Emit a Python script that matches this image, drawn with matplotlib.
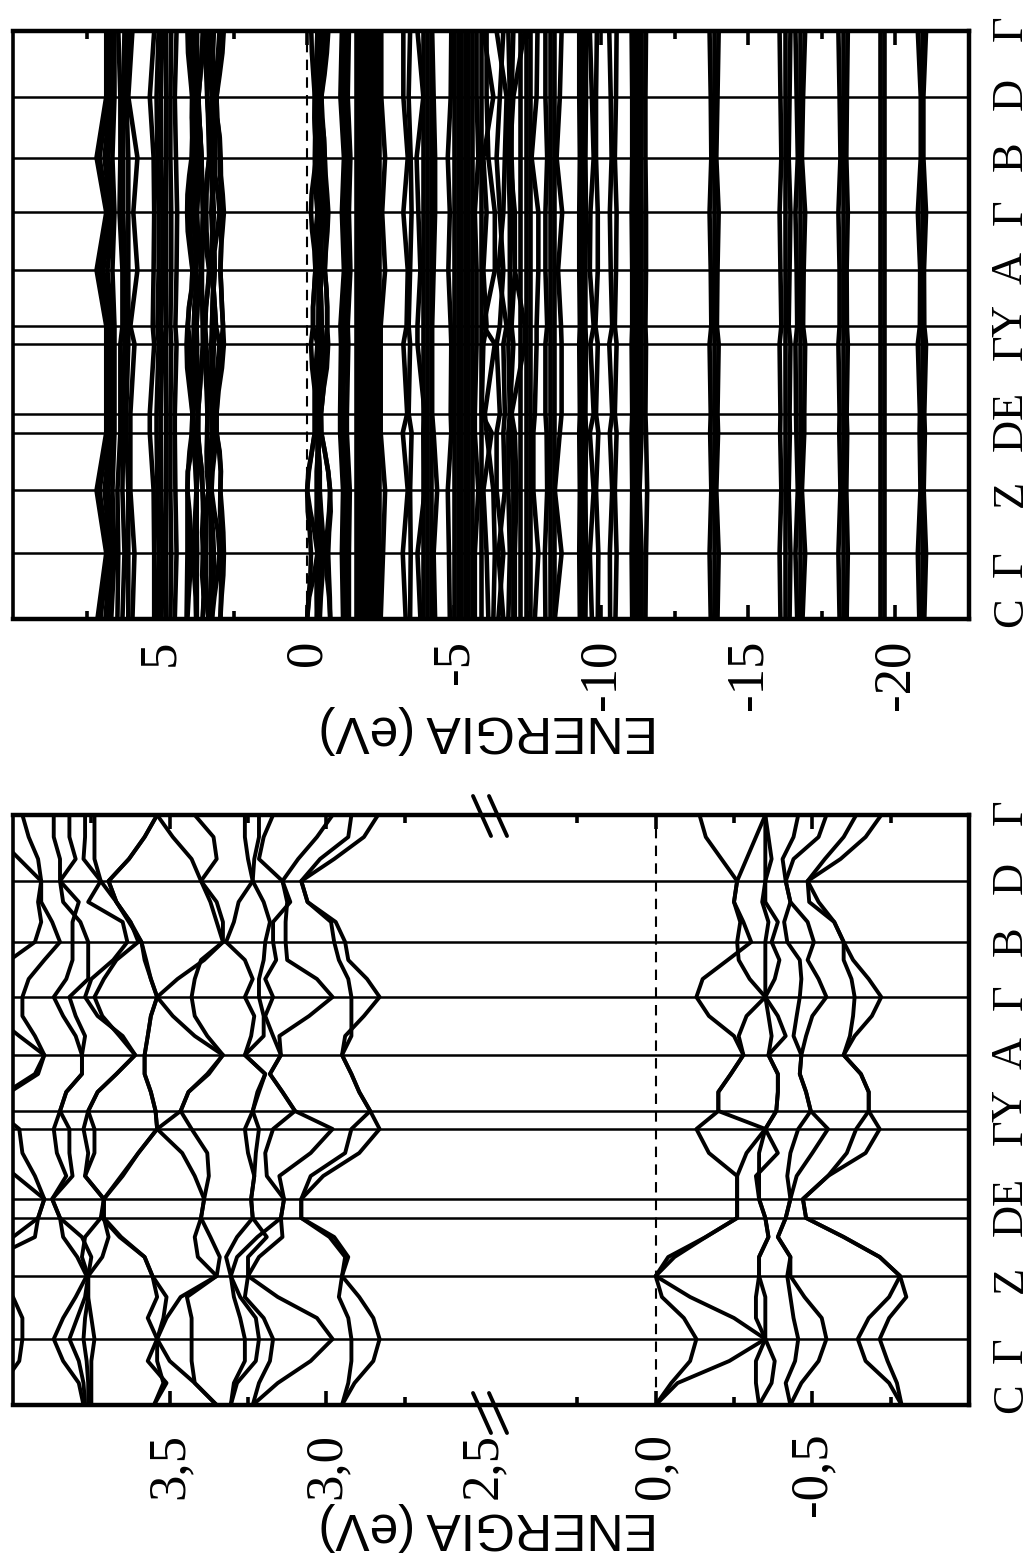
import matplotlib
matplotlib.use("Agg")
import matplotlib.pyplot as plt
from matplotlib.lines import Line2D
import numpy as np

W, H = 1031, 1553
plt.rcParams['axes.unicode_minus'] = False

# k-path: symmetry points and labels
k_sym = [0, 66, 129, 187, 206, 276, 294, 350, 408, 463, 524, 590]
k_labels = ['C', 'Γ', 'Z', 'D', 'E', 'Γ', 'Y', 'A', 'Γ', 'B', 'D', 'Γ']
k_label_at = [7, 55, 126, 185, 214, 273, 299, 352, 408, 464, 527, 593]
k_fine = [0, 22, 44, 66, 87, 108, 129, 148, 168, 187, 206, 229, 252, 276, 294, 313, 331, 350,
          369, 389, 408, 426, 445, 463, 483, 503, 524, 546, 568, 590]

# valence bands near the gap (eV)
v1 = [0,-.05,-.11,-.13,-.09,-.02,0,-.04,-.16,-.26,-.26,-.26,-.17,-.13,-.20,-.20,-.24,-.28,-.25,-.17,-.13,-.15,-.23,-.305,-.28,-.25,-.26,-.21,-.16,-.14]
v2 = [0,-.07,-.235,-.35,-.25,-.11,0,-.06,-.16,-.26,-.26,-.26,-.29,-.35,-.20,-.20,-.24,-.28,-.265,-.29,-.35,-.30,-.265,-.26,-.27,-.25,-.26,-.29,-.32,-.35]
v3 = [-.33,-.37,-.38,-.35,-.35,-.35,-.33,-.33,-.36,-.35,-.33,-.33,-.33,-.35,-.385,-.39,-.39,-.36,-.37,-.36,-.35,-.35,-.35,-.35,-.36,-.34,-.35,-.35,-.35,-.35]
v4 = [-.33,-.32,-.32,-.35,-.32,-.32,-.33,-.33,-.36,-.35,-.33,-.32,-.39,-.35,-.385,-.39,-.39,-.36,-.415,-.39,-.35,-.38,-.395,-.37,-.39,-.35,-.35,-.37,-.36,-.35]
v5 = [-.43,-.415,-.445,-.455,-.44,-.43,-.42,-.43,-.39,-.415,-.43,-.42,-.43,-.455,-.495,-.48,-.46,-.465,-.44,-.45,-.46,-.465,-.46,-.42,-.41,-.43,-.415,-.405,-.44,-.455]
v6 = [-.43,-.465,-.52,-.545,-.53,-.475,-.43,-.43,-.39,-.415,-.43,-.45,-.50,-.55,-.495,-.48,-.46,-.465,-.48,-.50,-.545,-.52,-.485,-.505,-.485,-.43,-.415,-.44,-.52,-.545]
v7 = [-.785,-.745,-.67,-.645,-.68,-.745,-.78,-.715,-.60,-.48,-.47,-.55,-.61,-.64,-.68,-.68,-.655,-.60,-.62,-.63,-.635,-.625,-.60,-.60,-.57,-.49,-.485,-.54,-.60,-.64]
v8 = [-.785,-.77,-.74,-.715,-.745,-.80,-.78,-.715,-.60,-.48,-.47,-.55,-.67,-.715,-.68,-.68,-.655,-.60,-.635,-.69,-.72,-.68,-.63,-.60,-.57,-.52,-.485,-.59,-.67,-.72]
valence = [v1, v2, v3, v4, v5, v6, v7, v8]

# conduction bands near the gap (eV)
c1 = [2.95,2.91,2.85,2.83,2.85,2.895,2.95,2.94,2.99,3.08,3.08,3.01,2.895,2.83,2.86,2.895,2.92,2.95,2.94,2.88,2.83,2.87,2.93,2.94,2.97,3.06,3.08,2.975,2.88,2.835]
c2 = [2.95,2.93,2.92,2.92,2.93,2.96,2.95,2.93,2.975,3.08,3.08,3.05,2.94,2.92,2.86,2.895,2.92,2.95,2.92,2.92,2.92,2.93,2.96,2.975,2.985,3.06,3.08,3.02,2.93,2.92]
c3 = [3.235,3.155,3.05,2.98,3.03,3.155,3.25,3.215,3.14,3.145,3.135,3.15,3.05,2.98,3.10,3.14,3.18,3.145,3.15,3.055,2.98,3.03,3.125,3.13,3.13,3.125,3.14,3.09,3.03,2.98]
c4 = [3.235,3.215,3.18,3.17,3.20,3.26,3.25,3.25,3.19,3.235,3.24,3.23,3.225,3.215,3.235,3.215,3.195,3.26,3.20,3.20,3.215,3.215,3.20,3.195,3.18,3.20,3.235,3.23,3.215,3.215]
c5 = [3.305,3.285,3.225,3.215,3.225,3.275,3.305,3.285,3.22,3.145,3.135,3.19,3.195,3.17,3.10,3.14,3.18,3.145,3.17,3.195,3.17,3.195,3.16,3.17,3.17,3.115,3.14,3.215,3.20,3.17]
c6 = [3.305,3.295,3.26,3.26,3.275,3.295,3.305,3.32,3.285,3.235,3.24,3.23,3.25,3.26,3.235,3.22,3.195,3.26,3.24,3.23,3.26,3.235,3.26,3.32,3.295,3.28,3.235,3.25,3.26,3.26]
c7 = [3.55,3.51,3.57,3.54,3.57,3.54,3.555,3.58,3.655,3.71,3.71,3.65,3.60,3.54,3.545,3.56,3.58,3.58,3.57,3.56,3.54,3.56,3.58,3.59,3.63,3.67,3.695,3.63,3.58,3.54]
c8 = [3.55,3.52,3.54,3.54,3.52,3.51,3.555,3.58,3.66,3.715,3.71,3.655,3.60,3.54,3.545,3.56,3.58,3.58,3.57,3.56,3.54,3.475,3.39,3.33,3.33,3.35,3.40,3.43,3.49,3.54]
c9 = [3.35,3.42,3.50,3.54,3.51,3.465,3.35,3.41,3.42,3.40,3.39,3.375,3.38,3.43,3.465,3.44,3.38,3.33,3.38,3.42,3.43,3.42,3.40,3.33,3.35,3.37,3.40,3.35,3.36,3.42]
c10 = [3.35,3.42,3.43,3.43,3.43,3.445,3.35,3.34,3.37,3.40,3.39,3.42,3.46,3.54,3.465,3.44,3.375,3.33,3.42,3.49,3.54,3.56,3.575,3.59,3.625,3.67,3.695,3.63,3.58,3.54]
c11 = [3.775,3.79,3.84,3.87,3.84,3.80,3.765,3.795,3.84,3.85,3.875,3.83,3.86,3.87,3.85,3.83,3.78,3.78,3.80,3.84,3.87,3.83,3.81,3.81,3.81,3.79,3.85,3.85,3.87,3.87]
c12 = [3.77,3.775,3.79,3.82,3.795,3.77,3.76,3.75,3.78,3.85,3.875,3.81,3.82,3.82,3.85,3.83,3.78,3.78,3.77,3.80,3.82,3.76,3.76,3.76,3.785,3.84,3.85,3.80,3.82,3.82]
c13 = [3.76,3.76,3.765,3.775,3.77,3.76,3.76,3.78,3.77,3.72,3.71,3.77,3.76,3.775,3.76,3.73,3.67,3.61,3.65,3.73,3.77,3.75,3.68,3.635,3.65,3.76,3.72,3.775,3.77,3.77]
c14 = [3.75,3.75,3.75,3.74,3.75,3.76,3.76,3.715,3.695,3.71,3.71,3.77,3.74,3.74,3.76,3.73,3.67,3.61,3.66,3.715,3.74,3.71,3.67,3.60,3.625,3.67,3.72,3.74,3.74,3.74]
c15 = [4.07,4.03,3.98,3.97,3.97,4.00,4.07,4.05,4.00,3.92,3.90,3.99,4.08,4.10,4.07,4.01,3.92,3.90,3.93,3.97,3.97,3.95,3.90,3.85,3.875,3.91,3.91,3.92,3.95,3.97]
c16 = [4.10,4.09,4.08,4.07,4.07,4.07,4.07,4.06,3.93,3.92,3.90,3.93,3.97,3.98,4.05,4.02,3.93,3.90,3.98,4.06,4.08,4.07,4.01,3.93,3.91,3.92,3.91,3.98,4.05,4.07]
conduction = [c1, c2, c3, c4, c5, c6, c7, c8, c9, c10, c11, c12, c13, c14, c15, c16]

# upper conduction bands, read at the symmetry points (eV)
hi_a1 = [7.13,6.83,7.16,6.83,6.83,6.83,6.83,7.16,6.83,7.16,6.83,6.83]
hi_a2 = [7.03,6.76,7.06,6.76,6.76,6.76,6.76,7.06,6.76,7.06,6.76,6.76]
hi_a3 = [6.86,6.69,6.89,6.69,6.69,6.69,6.69,6.93,6.69,6.89,6.69,6.69]
hi_a4 = [6.79,6.59,6.76,6.62,6.62,6.59,6.62,6.79,6.59,6.76,6.62,6.59]
hi_a5 = [6.66,6.55,6.62,6.55,6.55,6.55,6.55,6.62,6.55,6.62,6.55,6.55]
hi_b1 = [6.45,6.42,6.45,6.35,6.35,6.35,6.28,6.28,6.38,6.35,6.35,6.42]
hi_b2 = [6.28,6.21,6.28,6.25,6.25,6.21,6.21,6.21,6.25,6.25,6.25,6.21]
hi_b3 = [6.08,6.08,6.08,6.15,6.15,6.08,6.08,6.08,6.08,6.08,6.15,6.08]
hi_b4 = [5.94,5.87,6.01,6.01,6.01,5.87,6.01,5.77,5.91,5.77,6.08,5.94]
hi_c1 = [5.20,5.20,5.22,5.35,5.35,5.20,5.25,5.22,5.20,5.22,5.35,5.20]
hi_c2 = [5.09,5.05,5.09,5.12,5.12,5.05,5.09,5.05,5.05,5.09,5.12,5.05]
hi_c3 = [4.95,4.92,4.96,4.98,4.98,4.92,4.96,4.92,4.92,4.96,4.98,4.92]
hi_c4 = [4.80,4.79,4.80,4.80,4.80,4.79,4.80,4.79,4.79,4.80,4.80,4.79]
hi_c5 = [4.65,4.62,4.65,4.65,4.65,4.62,4.65,4.62,4.62,4.65,4.65,4.62]
hi_c6 = [4.50,4.44,4.48,4.50,4.50,4.44,4.48,4.44,4.42,4.46,4.50,4.44]
upper = [hi_a1, hi_a2, hi_a3, hi_a4, hi_a5, hi_b1, hi_b2, hi_b3, hi_b4, hi_c1, hi_c2, hi_c3, hi_c4, hi_c5, hi_c6]

# lower valence bands, read at the symmetry points (eV)
g1a = [-1.22,-1.18,-1.22,-1.12,-1.12,-1.15,-1.13,-1.25,-1.18,-1.25,-1.13,-1.18]
g1b = [-1.32,-1.30,-1.35,-1.22,-1.22,-1.27,-1.25,-1.35,-1.30,-1.35,-1.25,-1.30]
g1c = [-1.42,-1.42,-1.45,-1.35,-1.35,-1.40,-1.38,-1.47,-1.42,-1.47,-1.38,-1.42]
g2a = [-2.50,-2.58,-2.65,-2.50,-2.50,-2.50,-2.50,-2.65,-2.55,-2.65,-2.52,-2.52]
g3a = [-3.35,-3.25,-3.42,-3.25,-3.40,-3.27,-3.38,-3.42,-3.27,-3.42,-3.27,-3.27]
g3b = [-3.50,-3.52,-3.50,-3.55,-3.45,-3.50,-3.45,-3.50,-3.55,-3.52,-3.45,-3.50]
g3c = [-3.85,-3.75,-4.00,-3.95,-4.00,-3.75,-3.75,-3.85,-3.78,-3.72,-3.95,-3.75]
g3f = [-4.35,-4.30,-4.42,-4.30,-4.25,-4.25,-4.25,-4.30,-4.35,-4.35,-4.30,-4.25]
g4a = [-4.85,-4.82,-4.78,-4.90,-4.88,-4.90,-4.88,-4.80,-4.85,-4.78,-4.88,-4.90]
p1 = [-5.70,-5.70,-5.82,-5.70,-5.70,-5.76,-5.76,-5.76,-5.70,-5.82,-5.76,-5.76]
p3 = [-6.16,-6.10,-5.99,-6.27,-5.93,-5.99,-6.10,-5.99,-6.10,-5.99,-6.33,-5.99]
p4 = [-6.33,-6.38,-6.33,-6.10,-6.04,-6.38,-5.99,-6.38,-6.38,-6.16,-6.10,-6.10]
p5 = [-6.50,-6.67,-6.44,-6.44,-6.55,-6.44,-6.55,-6.67,-6.55,-6.44,-6.55,-6.67]
p6 = [-6.67,-6.50,-6.72,-6.67,-6.72,-6.67,-6.78,-6.50,-6.67,-6.72,-6.78,-6.44]
p7 = [-6.84,-6.89,-6.84,-6.84,-6.89,-6.84,-6.89,-6.89,-6.89,-6.84,-6.89,-6.84]
p8 = [-7.01,-7.01,-7.01,-6.95,-6.89,-7.01,-6.95,-7.06,-7.01,-6.95,-6.95,-7.01]
p10 = [-7.06,-7.06,-7.12,-7.06,-6.95,-7.40,-7.40,-7.06,-7.06,-6.89,-7.01,-7.40]
q1 = [-7.74,-7.86,-7.69,-7.69,-7.74,-7.80,-7.80,-7.86,-7.86,-7.63,-7.80,-7.83]
r1 = [-8.10,-8.08,-8.16,-8.14,-8.10,-8.10,-8.16,-8.10,-8.10,-8.16,-8.10,-8.10]
r4 = [-8.42,-8.65,-8.42,-8.59,-8.65,-8.65,-8.63,-8.53,-8.67,-8.48,-8.59,-8.65]
s1 = [-9.27,-9.25,-9.27,-9.25,-9.27,-9.25,-9.27,-9.25,-9.25,-9.27,-9.25,-9.25]
s2 = [-9.46,-9.48,-9.46,-9.48,-9.46,-9.48,-9.46,-9.46,-9.48,-9.46,-9.48,-9.48]
u1 = [-9.68,-9.61,-9.74,-9.61,-9.74,-9.63,-9.74,-9.61,-9.63,-9.74,-9.68,-9.61]
u2 = [-9.88,-9.90,-9.82,-9.90,-9.82,-9.88,-9.80,-9.88,-9.88,-9.82,-9.82,-9.85]
t1 = [-10.30,-10.29,-10.37,-10.29,-10.37,-10.27,-10.37,-10.32,-10.29,-10.35,-10.32,-10.27]
t2 = [-10.48,-10.52,-10.46,-10.52,-10.46,-10.52,-10.46,-10.50,-10.52,-10.46,-10.50,-10.52]
w1 = [-11.05,-11.03,-11.05,-11.03,-11.05,-11.03,-11.05,-11.05,-11.03,-11.05,-11.05,-11.03]
w2 = [-11.16,-11.14,-11.16,-11.14,-11.16,-11.14,-11.16,-11.16,-11.14,-11.16,-11.16,-11.14]
w3 = [-11.25,-11.25,-11.22,-11.25,-11.25,-11.25,-11.25,-11.25,-11.25,-11.25,-11.25,-11.25]
w4 = [-11.37,-11.37,-11.30,-11.37,-11.37,-11.37,-11.37,-11.37,-11.37,-11.35,-11.37,-11.37]
w5 = [-11.50,-11.52,-11.56,-11.52,-11.50,-11.52,-11.50,-11.52,-11.52,-11.50,-11.50,-11.52]
x1 = [-13.72,-13.68,-13.74,-13.70,-13.72,-13.68,-13.74,-13.72,-13.68,-13.74,-13.72,-13.68]
x2 = [-13.95,-13.99,-13.91,-13.97,-13.95,-13.99,-13.93,-13.95,-13.99,-13.91,-13.95,-13.99]
y1 = [-16.09,-16.06,-16.12,-16.08,-16.09,-16.06,-16.12,-16.09,-16.06,-16.12,-16.09,-16.06]
y2 = [-16.40,-16.43,-16.37,-16.41,-16.40,-16.43,-16.37,-16.40,-16.43,-16.37,-16.40,-16.43]
y3 = [-16.66,-16.60,-16.68,-16.63,-16.62,-16.60,-16.66,-16.64,-16.60,-16.68,-16.64,-16.60]
y4 = [-16.84,-16.93,-16.82,-16.90,-16.90,-16.93,-16.86,-16.88,-16.93,-16.82,-16.86,-16.93]
z1 = [-18.10,-18.06,-18.13,-18.09,-18.10,-18.06,-18.10,-18.10,-18.06,-18.13,-18.10,-18.06]
z2 = [-18.34,-18.38,-18.33,-18.36,-18.34,-18.38,-18.35,-18.34,-18.38,-18.33,-18.35,-18.38]
z3 = [-19.46,-19.46,-19.46,-19.46,-19.46,-19.46,-19.46,-19.46,-19.46,-19.46,-19.46,-19.46]
z4 = [-19.60,-19.60,-19.60,-19.60,-19.60,-19.60,-19.60,-19.60,-19.60,-19.60,-19.60,-19.60]
z5 = [-20.81,-20.76,-20.85,-20.82,-20.83,-20.76,-20.83,-20.84,-20.76,-20.86,-20.86,-20.76]
z6 = [-20.98,-21.04,-20.96,-21.00,-20.98,-21.04,-20.98,-20.97,-21.04,-20.95,-20.95,-21.04]
lower = [g1a, g1b, g1c, g2a, g3a, g3b, g3c, g3f, g4a, p1, p3, p4, p5, p6, p7, p8, p10, q1, r1, r4,
         s1, s2, u1, u2, t1, t2, w1, w2, w3, w4, w5, x1, x2, y1, y2, y3, y4, z1, z2, z3, z4, z5, z6]
# closely packed bands that fill the solid blocks (eV)
packed_levels = [-1.65, -1.75, -1.85, -1.95, -2.05, -2.15, -2.25, -2.35, -2.45,
                 -3.95, -4.08, -4.20, -5.00, -5.12, -5.24, -5.36, -5.48, -5.60,
                 -5.90, -7.25, -7.45, -7.58, -8.25, -8.40, -9.36,
                 -13.84, -16.25, -16.77, -18.22, -20.90]

# axis settings
top_ticks = [5, 0, -5, -10, -15, -20]
top_tick_labels = ['5', '0', '-5', '-10', '-15', '-20']
top_minor = [7.5, 2.5, -2.5, -7.5, -12.5, -17.5]
top_xlim = (10.0, -22.5)
bot_ticks = [3.5, 3.0, 2.5, 0.0, -0.5]
bot_tick_labels = ['3,5', '3,0', '2,5', '0,0', '-0,5']
bot_minor = [3.75, 3.25, 2.75, 0.25, -0.25, -0.75]
bot_xlim = (4.0, -1.0)
axis_gap = 1.949
y_label = 'ENERGIA (eV)'

SERIF = 'Liberation Serif'
SANS = 'Liberation Sans'


def gap_fwd(e):
    e = np.asarray(e, dtype=float)
    return np.where(e > 1.25, e - axis_gap, e)


def gap_inv(x):
    x = np.asarray(x, dtype=float)
    return np.where(x > 0.525, x + axis_gap, x)


fig = plt.figure(figsize=(W / 100, H / 100), dpi=100)


def make_axes(y_top, y_bot):
    ax = fig.add_axes([13 / W, 1 - y_bot / H, (969 - 13) / W, (y_bot - y_top) / H])
    ax.set_ylim(0, 590)
    ax.set_yticks(k_sym[1:-1])
    ax.tick_params(axis='y', length=0, labelleft=False)
    ax.grid(True, axis='y', color='black', lw=1.8, zorder=1)
    ax.set_axisbelow(True)
    for name, s in ax.spines.items():
        s.set_linewidth(3.2 if name in ('top', 'bottom', 'right') else 2.6)
        s.set_zorder(6)
    ax.axvline(0, color='black', lw=1.5, dashes=(5, 3.5), zorder=1.5)
    for lab, pos in zip(k_labels, k_label_at):
        ax.text((1011 - 13) / 956, pos, lab, rotation=90, ha='center', va='center',
                family=SERIF, fontsize=32, transform=ax.get_yaxis_transform(), clip_on=False)
    return ax


def style_x_ticks(ax, pad):
    ax.tick_params(axis='x', which='major', direction='in', top=True, bottom=True, width=2.6, length=10, pad=pad)
    ax.tick_params(axis='x', which='minor', direction='in', top=True, bottom=True, width=2.6, length=5.5)
    for t in ax.get_xticklabels():
        t.set_rotation(90)
        t.set_va('top')
        t.set_ha('center')
        t.set_family(SERIF)
        t.set_fontsize(38)


# top panel
TOP_LW = 3.3
BOT_LW = 2.8
ax1 = make_axes(31, 619)
for band in valence + conduction:
    ax1.plot(band, k_fine, color='black', lw=TOP_LW, solid_joinstyle='round', zorder=3)
for band in upper + lower:
    ax1.plot(band, k_sym, color='black', lw=TOP_LW, solid_joinstyle='round', zorder=3)
for level in packed_levels:
    ax1.plot([level] * len(k_sym), k_sym, color='black', lw=TOP_LW, zorder=3)
ax1.set_xlim(*top_xlim)
ax1.set_xticks(top_ticks, top_tick_labels)
ax1.set_xticks(top_minor, minor=True)
style_x_ticks(ax1, 15)

# bottom panel, with a broken energy axis
ax2 = make_axes(815, 1405)
ax2.set_xscale('function', functions=(gap_fwd, gap_inv))
for band in valence + conduction:
    ax2.plot(band, k_fine, color='black', lw=BOT_LW, solid_joinstyle='round', zorder=3)
ax2.set_xlim(*bot_xlim)
ax2.set_xticks(bot_ticks, bot_tick_labels)
ax2.set_xticks(bot_minor, minor=True)
style_x_ticks(ax2, 20)
# the 2.5 position sits on the axis break and carries no tick mark
ax2.xaxis.get_major_ticks()[2].tick1line.set_visible(False)
ax2.xaxis.get_major_ticks()[2].tick2line.set_visible(False)


def px_line(x0, y0, x1, y1):
    fig.add_artist(Line2D([x0 / W, x1 / W], [1 - y0 / H, 1 - y1 / H], color='black', lw=2.8,
                          solid_capstyle='round', zorder=8))


# axis-break slashes
for y_mid in (816, 1413):
    for x_mid in (482, 498):
        px_line(x_mid - 9, y_mid - 20, x_mid + 9, y_mid + 20)

# energy axis titles, upside down as in the source
fig.text(488 / W, 1 - 730 / H, y_label, rotation=180, ha='center', va='center', family=SANS, fontsize=37)
fig.text(488 / W, 1 - 1527 / H, y_label, rotation=180, ha='center', va='center', family=SANS, fontsize=37)

fig.savefig('out.png', dpi=100)
